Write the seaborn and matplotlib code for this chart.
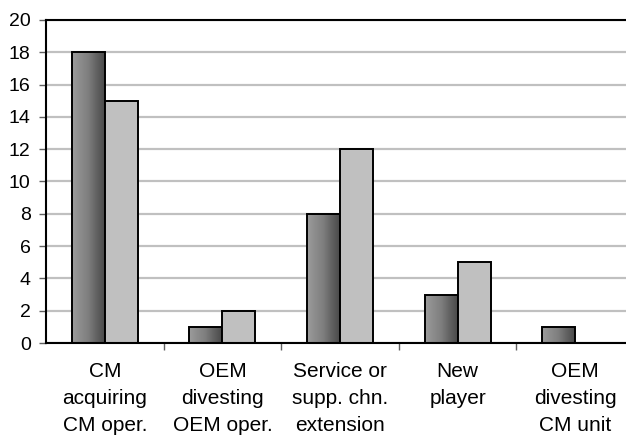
import numpy as np
import pandas as pd
import matplotlib
matplotlib.use("Agg")
import matplotlib.pyplot as plt
from matplotlib.colors import LinearSegmentedColormap
import seaborn as sns

categories = [
    "CM\nacquiring\nCM oper.",
    "OEM\ndivesting\nOEM oper.",
    "Service or\nsupp. chn.\nextension",
    "New\nplayer",
    "OEM\ndivesting\nCM unit",
]
series_names = ["Series 1", "Series 2"]
series_1 = [18, 1, 8, 3, 1]
series_2 = [15, 2, 12, 5, 0]
y_ticks = [0, 2, 4, 6, 8, 10, 12, 14, 16, 18, 20]

df = pd.DataFrame({
    "category": categories * 2,
    "series": [series_names[0]] * len(categories) + [series_names[1]] * len(categories),
    "value": series_1 + series_2,
})

sns.set_theme(style="white")
plt.rcParams["font.family"] = ["Liberation Sans", "DejaVu Sans"]

fig = plt.figure(figsize=(6.26, 4.43), dpi=100)
ax = fig.add_axes([46 / 626, 1 - 343 / 443, 588 / 626, 323 / 443])

sns.barplot(
    data=df, x="category", y="value", hue="series", order=categories,
    hue_order=series_names, palette=["#808080", "#c0c0c0"],
    width=0.56, gap=0, dodge=True, legend=False,
    edgecolor="black", linewidth=1.4, saturation=1, ax=ax,
)

# shaded fill for the first series: lighter on the left, darker on the right
shade = LinearSegmentedColormap.from_list(
    "shade", ["#9c9c9c", "#8c8c8c", "#7e7e7e", "#626262", "#4a4a4a"]
)
grad = np.linspace(0, 1, 64).reshape(1, -1)
for patch in ax.containers[0]:
    x0, y0 = patch.get_x(), patch.get_y()
    w, h = patch.get_width(), patch.get_height()
    if h <= 0:
        continue
    im = ax.imshow(grad, cmap=shade, aspect="auto",
                   extent=[x0, x0 + w, y0, y0 + h],
                   zorder=patch.get_zorder() - 0.05, interpolation="bicubic")
    im.set_clip_path(patch)
    patch.set_facecolor("none")

ax.set_xlim(-0.5, len(categories) - 0.5)
ax.set_ylim(0, 20)
ax.set_yticks(y_ticks)
ax.set_axisbelow(True)
ax.yaxis.grid(True, color="#c0c0c0", linewidth=1.6)
ax.xaxis.grid(False)

for side in ["left", "bottom", "top"]:
    ax.spines[side].set_visible(True)
    ax.spines[side].set_color("black")
    ax.spines[side].set_linewidth(1.5)
ax.spines["right"].set_visible(False)

ax.set_xlabel("")
ax.set_ylabel("")
ax.tick_params(axis="y", which="major", direction="out", length=5, width=1,
               color="#606060", labelsize=14, labelcolor="black", pad=6, left=True)
ax.set_xticks(np.arange(len(categories)) + 0.5, minor=True)
ax.tick_params(axis="x", which="minor", direction="out", length=5, width=1,
               color="#606060", bottom=True)
ax.tick_params(axis="x", which="major", length=0, labelsize=15,
               labelcolor="black", pad=14)
for lbl in ax.get_xticklabels():
    lbl.set_linespacing(1.52)
    lbl.set_verticalalignment("top")

fig.savefig("out.png", dpi=100)
